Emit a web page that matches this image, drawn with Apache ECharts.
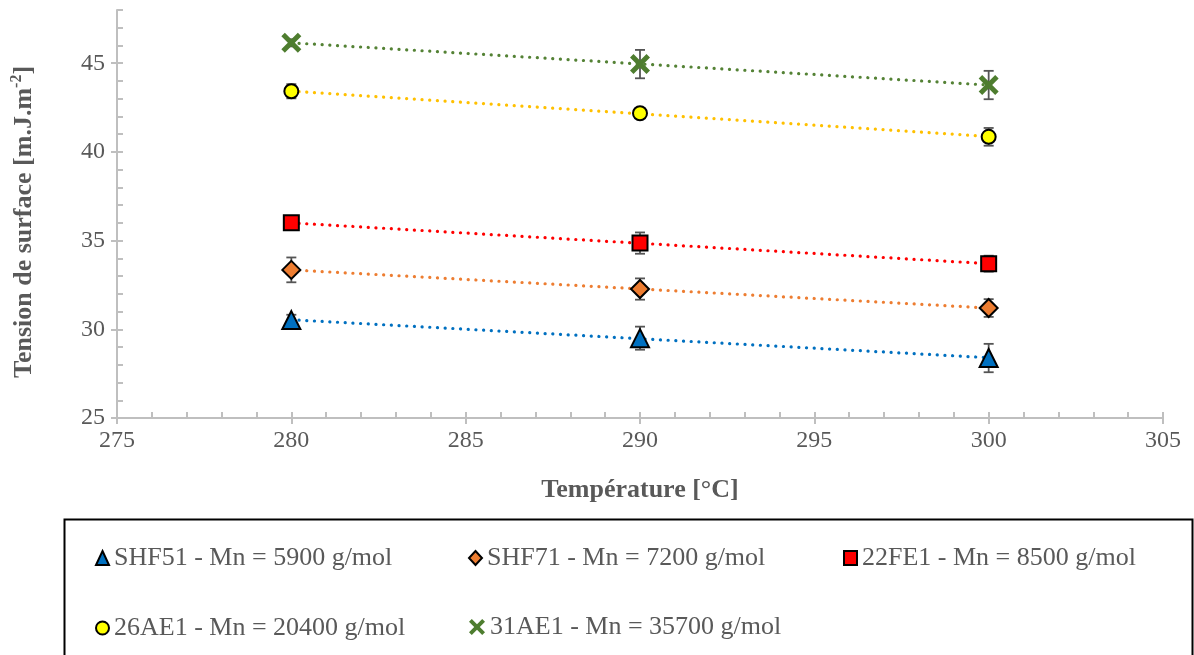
<!DOCTYPE html>
<html>
<head>
<meta charset="utf-8">
<script src="https://cdn.jsdelivr.net/npm/echarts@6/dist/echarts.min.js"></script>
<style>
html,body{margin:0;padding:0;background:#fff;}
#chart{width:1194px;height:655px;}
</style>
</head>
<body>
<div id="chart"></div>
<script>
// ---- data ----
const temps = [280, 290, 300];
const seriesNames = [
  'SHF51 - Mn = 5900 g/mol',
  'SHF71 - Mn = 7200 g/mol',
  '22FE1 - Mn = 8500 g/mol',
  '26AE1 - Mn = 20400 g/mol',
  '31AE1 - Mn = 35700 g/mol'
];
const shf51 = [30.52, 29.50, 28.38];
const shf71 = [33.35, 32.27, 31.20];
const fe22  = [36.00, 34.86, 33.70];
const ae26  = [43.42, 42.18, 40.85];
const ae31  = [46.15, 44.95, 43.77];

const shf51Err = [0.30, 0.65, 0.80];
const shf71Err = [0.70, 0.60, 0.50];
const fe22Err  = [0.20, 0.60, 0.45];
const ae26Err  = [0.40, 0.20, 0.50];
const ae31Err  = [0.20, 0.80, 0.80];

// linear trend lines (values at 280 and 300 °C)
const trendX = [280, 300];
const shf51Trend = [30.54, 28.40];
const shf71Trend = [33.35, 31.20];
const fe22Trend  = [36.00, 33.70];
const ae26Trend  = [43.43, 40.87];
const ae31Trend  = [46.15, 43.77];

const xTicks = [275, 280, 285, 290, 295, 300, 305];
const yTicks = [25, 30, 35, 40, 45];

// ---- styles ----
const FONT = '"Liberation Serif", "Times New Roman", serif';
const GREY = '#595959';
const AXIS = '#BFBFBF';
const X_PATH = 'path://M0,3.5 L3.5,0 L10,6.5 L16.5,0 L20,3.5 L13.5,10 L20,16.5 L16.5,20 L10,13.5 L3.5,20 L0,16.5 L6.5,10 Z';

const defs = [
  {vals: shf51, err: shf51Err, trend: shf51Trend, symbol: 'triangle', size: 18, fill: '#0070C0', line: '#0070C0', border: '#000'},
  {vals: shf71, err: shf71Err, trend: shf71Trend, symbol: 'diamond', size: 18, fill: '#ED7D31', line: '#ED7D31', border: '#000'},
  {vals: fe22,  err: fe22Err,  trend: fe22Trend,  symbol: 'rect', size: 15, fill: '#FF0000', line: '#FF0000', border: '#000'},
  {vals: ae26,  err: ae26Err,  trend: ae26Trend,  symbol: 'circle', size: 14, fill: '#FFFF00', line: '#FFC000', border: '#000'},
  {vals: ae31,  err: ae31Err,  trend: ae31Trend,  symbol: X_PATH, size: 20, fill: '#4E7D2F', line: '#548235', border: null}
];

const series = [];
defs.forEach((d, k) => {
  // trend line
  series.push({
    type: 'line', name: 'trend' + k, silent: true,
    xAxisIndex: 0, yAxisIndex: 0,
    data: trendX.map((t, i) => [t, d.trend[i]]),
    showSymbol: false, symbol: 'none',
    lineStyle: {color: d.line, width: 3.2, type: [0.1, 7.6], cap: 'round'},
    z: 2
  });
  // error bars
  series.push({
    type: 'custom', name: 'err' + k, silent: true,
    xAxisIndex: 0, yAxisIndex: 0,
    data: temps.map((t, i) => [t, d.vals[i], d.err[i]]),
    renderItem: function (params, api) {
      const x = api.value(0), y = api.value(1), e = api.value(2);
      const top = api.coord([x, y + e]);
      const bot = api.coord([x, y - e]);
      const st = {stroke: '#555555', lineWidth: 1.8};
      return {
        type: 'group',
        children: [
          {type: 'line', shape: {x1: top[0], y1: top[1], x2: bot[0], y2: bot[1]}, style: st},
          {type: 'line', shape: {x1: top[0] - 5, y1: top[1], x2: top[0] + 5, y2: top[1]}, style: st},
          {type: 'line', shape: {x1: bot[0] - 5, y1: bot[1], x2: bot[0] + 5, y2: bot[1]}, style: st}
        ]
      };
    },
    z: 3
  });
  // markers
  series.push({
    type: 'scatter', name: seriesNames[k],
    xAxisIndex: 0, yAxisIndex: 0,
    data: temps.map((t, i) => [t, d.vals[i]]),
    symbol: d.symbol, symbolSize: d.size,
    itemStyle: d.border ? {color: d.fill, borderColor: d.border, borderWidth: 2, opacity: 1}
                        : {color: d.fill, opacity: 1},
    z: 4
  });
});

const legendPos = [
  {left: 90, top: 540, w: 13, h: 14}, {left: 463, top: 540, w: 13, h: 14}, {left: 838, top: 540, w: 13, h: 14},
  {left: 90, top: 610, w: 13, h: 14}, {left: 464, top: 609, w: 16, h: 16}
];
const legends = seriesNames.map((n, k) => ({
  data: [n], left: legendPos[k].left, top: legendPos[k].top,
  itemWidth: legendPos[k].w, itemHeight: legendPos[k].h, itemGap: 5, selectedMode: false,
  textStyle: {fontFamily: FONT, fontSize: 26, color: GREY, padding: [0, 0, 0, 0]}
}));

const chart = echarts.init(document.getElementById('chart'), null, {renderer: 'canvas'});
chart.setOption({
  backgroundColor: '#fff',
  animation: false,
  grid: {left: 117, right: 31, top: 10, bottom: 237, containLabel: false},
  legend: legends,
  graphic: [{
    type: 'rect', left: 62, top: 517,
    shape: {x: 0, y: 0, width: 1128, height: 160},
    style: {fill: 'none', stroke: '#000', lineWidth: 2}, z: 0
  }],
  xAxis: [{
    type: 'value', min: 275, max: 305, interval: 5, position: 'bottom',
    axisLine: {show: true, lineStyle: {color: AXIS, width: 2}},
    axisTick: {show: true, inside: false, length: 6, lineStyle: {color: AXIS, width: 2}},
    axisLabel: {fontFamily: FONT, fontSize: 24, color: GREY, margin: 11,
      customValues: xTicks},
    splitLine: {show: false},
    name: 'Température [°C]', nameLocation: 'middle', nameGap: 59,
    nameTextStyle: {fontFamily: FONT, fontSize: 26, fontWeight: 'bold', color: GREY}
  }, {
    type: 'value', min: 275, max: 305, interval: 1, position: 'bottom',
    axisLine: {show: false},
    axisTick: {show: true, inside: true, length: 6, lineStyle: {color: AXIS, width: 2}},
    axisLabel: {show: false}, splitLine: {show: false}
  }],
  yAxis: [{
    type: 'value', min: 25, max: 48, interval: 5, position: 'left',
    axisLine: {show: true, lineStyle: {color: AXIS, width: 2}},
    axisTick: {show: true, inside: false, length: 6, lineStyle: {color: AXIS, width: 2},
      customValues: yTicks},
    axisLabel: {fontFamily: FONT, fontSize: 24, color: GREY, margin: 12,
      customValues: yTicks},
    splitLine: {show: false},
    name: '{t|Tension de surface [m.J.m}{s|-2}{t|]}',
    nameLocation: 'middle', nameGap: 78,
    nameTextStyle: {
      padding: [0, 16, 0, 0],
      rich: {
        t: {fontFamily: FONT, fontSize: 26, fontWeight: 'bold', color: GREY, lineHeight: 30},
        s: {fontFamily: FONT, fontSize: 16, fontWeight: 'bold', color: GREY, lineHeight: 18, verticalAlign: 'top'}
      }
    }
  }, {
    type: 'value', min: 25, max: 48, interval: 1, position: 'left',
    axisLine: {show: false},
    axisTick: {show: true, inside: true, length: 6, lineStyle: {color: AXIS, width: 2}},
    axisLabel: {show: false}, splitLine: {show: false}
  }],
  series: series
});
</script>
</body>
</html>
